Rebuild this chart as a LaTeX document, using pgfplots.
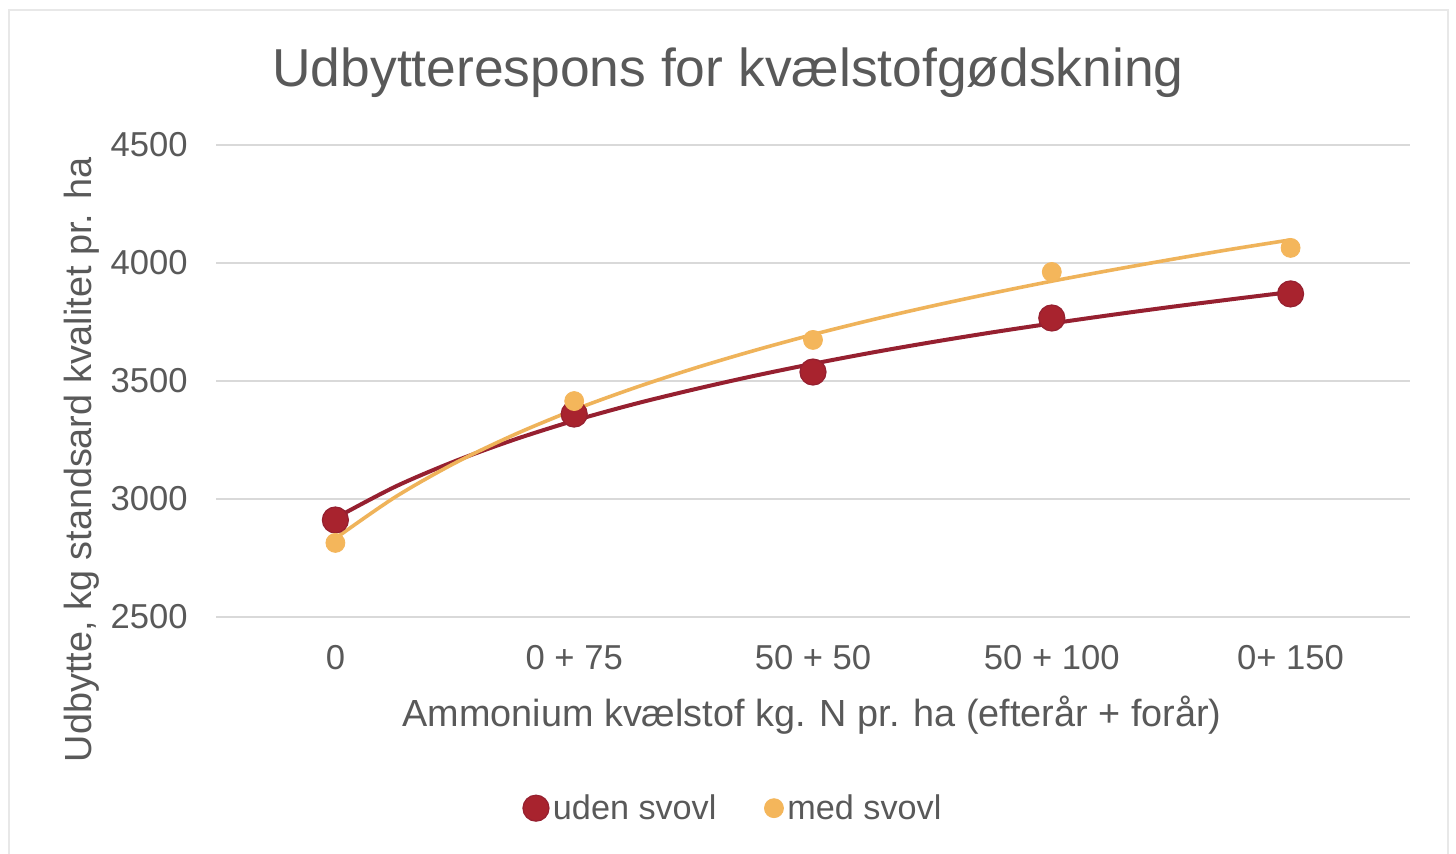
\documentclass[border=0pt]{standalone}
\usepackage{pgfplots}
\pgfplotsset{compat=1.18}
\usepackage{fontspec}
\setmainfont{Liberation Sans}

\definecolor{txt}{HTML}{595959}
\definecolor{gridc}{HTML}{D9D9D9}
\definecolor{udenM}{HTML}{A8232E}
\definecolor{udenL}{HTML}{962030}
\definecolor{medM}{HTML}{F4B65B}
\definecolor{medL}{HTML}{EFB35A}

\begin{document}
\begin{tikzpicture}
\path[use as bounding box, fill=white] (0,0) rectangle (728pt,426.5pt);
\draw[color=black!9, line width=1pt] (4.5pt,-2pt) |- (724pt,421.5pt) -- (724pt,-2pt);
\begin{axis}[
  at={(108pt,118pt)}, anchor=south west,
  scale only axis, width=597pt, height=236pt,
  xmin=-0.5, xmax=4.5, ymin=2500, ymax=4500,
  xtick={0,1,2,3,4},
  xticklabels={0, 0 + 75, 50 + 50, 50 + 100, 0+ 150},
  ytick={2500,3000,3500,4000,4500},
  axis line style={draw=none},
  tick style={draw=none},
  ymajorgrids, grid style={gridc, line width=1pt},
  /pgf/number format/assume math mode=true,
  /pgf/number format/set thousands separator={},
  every tick label/.append style={font=\fontsize{17.3}{20}\selectfont, text=txt},
  xticklabel style={inner sep=0pt, yshift=-14pt},
  yticklabel style={inner sep=0pt, xshift=-14pt},
  title={Udbytterespons for kvælstofgødskning},
  title style={at={(0.4288,1.127)}, anchor=center, font=\fontsize{26.7}{30}\selectfont, text=txt},
  xlabel={Ammonium kvælstof kg. N pr. ha (efterår + forår)},
  xlabel style={at={(0.4992,-0.207)}, anchor=center, font=\fontsize{18.9}{22}\selectfont, text=txt},
  ylabel={Udbytte, kg standsard kvalitet pr. ha},
  ylabel style={at={(-0.1125,0.333)}, anchor=center, rotate=0, font=\fontsize{18.9}{22}\selectfont, text=txt},
  legend columns=2,
  legend style={at={(0.434,-0.405)}, anchor=center, draw=none, fill=none,
    font=\fontsize{17.1}{20}\selectfont, text=txt,
    /tikz/every even column/.append style={column sep=22pt}},
  legend cell align=left,
]
% logarithmic trend lines (values of a*ln(k)+b, k = 1..5)
\addplot[udenL, line width=2pt, smooth, forget plot] coordinates {
  (0,2919) (0.25,3052) (0.5,3160) (0.75,3252) (1,3332) (1.25,3402)
  (1.5,3464) (1.75,3521) (2,3573) (2.25,3621) (2.5,3665) (2.75,3706)
  (3,3744) (3.25,3780) (3.5,3814) (3.75,3846) (4,3877)};
\addplot[medL, line width=1.8pt, smooth, forget plot] coordinates {
  (0,2833) (0.25,3008) (0.5,3152) (0.75,3273) (1,3378) (1.25,3470)
  (1.5,3553) (1.75,3628) (2,3697) (2.25,3760) (2.5,3818) (2.75,3872)
  (3,3923) (3.25,3970) (3.5,4015) (3.75,4058) (4,4098)};
% measured yields
\addplot[only marks, mark=*, mark size=6.5pt, mark options={fill=udenM, draw=udenL, line width=0.6pt}]
  coordinates {(0,2911) (1,3360) (2,3538) (3,3767) (4,3869)};
\addlegendentry{uden svovl}
\addplot[only marks, mark=*, mark size=4.75pt, mark options={fill=medM, draw=medM}]
  coordinates {(0,2814) (1,3415) (2,3674) (3,3962) (4,4064)};
\addlegendentry{med svovl}
\end{axis}
\end{tikzpicture}
\end{document}
